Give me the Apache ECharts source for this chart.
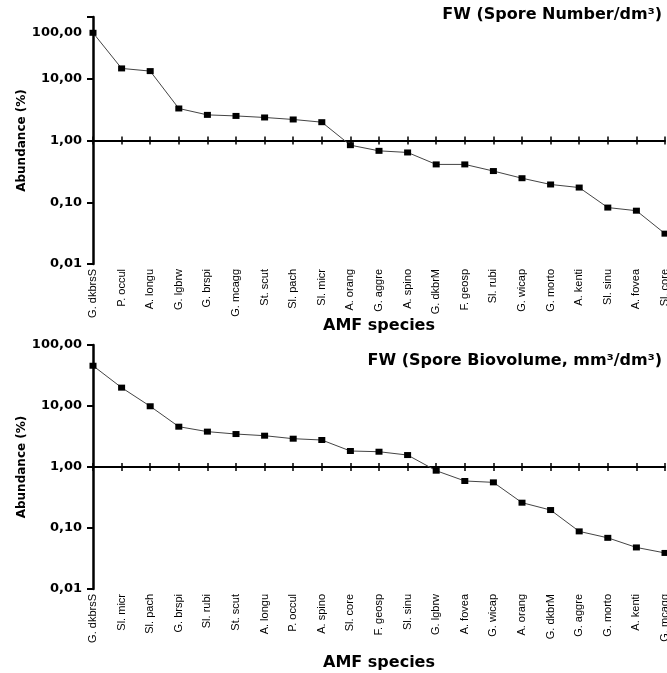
<!DOCTYPE html>
<html>
<head>
<meta charset="utf-8">
<script src="https://cdn.jsdelivr.net/npm/echarts@6/dist/echarts.min.js"></script>
<style>
  html, body { margin: 0; padding: 0; background: #fff; }
  #chart { width: 667px; height: 673px; }
</style>
</head>
<body>
<div id="chart"></div>
<script>
// spore number ranking (top panel)
var numSpecies = ['G. dkbrsS', 'P. occul', 'A. longu', 'G. lgbrw', 'G. brspi', 'G. mcagg', 'St. scut',
    'Sl. pach', 'Sl. micr', 'A. orang', 'G. aggre', 'A. spino', 'G. dkbrM', 'F. geosp', 'Sl. rubi',
    'G. wicap', 'G. morto', 'A. kenti', 'Sl. sinu', 'A. fovea', 'Sl. core'];
var numValues = [55.5, 14.7, 13.3, 3.3, 2.6, 2.5, 2.36, 2.19, 1.98, 0.84, 0.68, 0.64, 0.41, 0.41, 0.32,
    0.245, 0.194, 0.173, 0.082, 0.073, 0.031];

// spore biovolume ranking (bottom panel)
var volSpecies = ['G. dkbrsS', 'Sl. micr', 'Sl. pach', 'G. brspi', 'Sl. rubi', 'St. scut', 'A. longu',
    'P. occul', 'A. spino', 'Sl. core', 'F. geosp', 'Sl. sinu', 'G. lgbrw', 'A. fovea', 'G. wicap',
    'A. orang', 'G. dkbrM', 'G. aggre', 'G. morto', 'A. kenti', 'G. mcagg'];
var volValues = [45.7, 20, 9.9, 4.58, 3.8, 3.47, 3.26, 2.91, 2.77, 1.83, 1.78, 1.57, 0.87, 0.59, 0.56,
    0.26, 0.197, 0.088, 0.069, 0.048, 0.039];

var titles = ['FW (Spore Number/dm³)', 'FW (Spore Biovolume, mm³/dm³)'];

var boldFont = 'DejaVu Sans';
var labelFont = '"Liberation Sans", Arial, sans-serif';

var chart = echarts.init(document.getElementById('chart'));

function fmt(v) {
    return v.toFixed(2).replace('.', ',');
}

// panel geometry
var grids = [
    { left: 93, top: 17, width: 572, height: 247 },
    { left: 93, top: 345, width: 572, height: 244 }
];
var nameGaps = [54, 66];

var xAxes = [], yAxes = [], series = [];

[numSpecies, volSpecies].forEach(function (cats, i) {
    var half = grids[i].height / 2;
    // labels along the bottom
    xAxes.push({
        gridIndex: i, type: 'category', data: cats, boundaryGap: false, position: 'bottom',
        axisLine: { show: false }, axisTick: { show: false },
        axisLabel: { interval: 0, rotate: 90, margin: 5, fontFamily: labelFont, fontSize: 11, color: '#000' },
        name: 'AMF species', nameLocation: 'middle', nameGap: nameGaps[i], nameMoveOverlap: false,
        nameTextStyle: { fontFamily: boldFont, fontWeight: 'bold', fontSize: 16, color: '#000' }
    });
    // axis line crossing at 1,00 with ticks above
    xAxes.push({
        gridIndex: i, type: 'category', data: cats, boundaryGap: false, position: 'top', offset: -half,
        axisLine: { show: true, lineStyle: { color: '#000', width: 2 } },
        axisTick: { show: true, interval: 0, length: 4, lineStyle: { color: '#000', width: 1.5 } },
        axisLabel: { show: false }
    });
    // ticks below the same line
    xAxes.push({
        gridIndex: i, type: 'category', data: cats, boundaryGap: false, position: 'top', offset: -half,
        axisLine: { show: false },
        axisTick: { show: true, inside: true, interval: 0, length: 4, lineStyle: { color: '#000', width: 1.5 } },
        axisLabel: { show: false }
    });
    yAxes.push({
        gridIndex: i, type: 'log', logBase: 10, min: 0.01, max: 100,
        axisLine: { show: true, lineStyle: { color: '#000', width: 2.5 } },
        axisTick: { show: true, length: 6, lineStyle: { color: '#000', width: 2 } },
        splitLine: { show: false },
        axisLabel: {
            margin: 11, fontFamily: boldFont, fontWeight: 'bold', fontSize: 13, color: '#000',
            formatter: function (v) {
                // the top panel prints its 100,00 label a little below the tick
                if (i === 0 && v >= 99) return '{lo|' + fmt(v) + '}';
                return fmt(v);
            },
            rich: {
                lo: { padding: [32, 0, 0, 0], fontFamily: boldFont, fontWeight: 'bold', fontSize: 13, color: '#000' }
            }
        },
        name: 'Abundance (%)', nameLocation: 'middle', nameGap: 65, nameMoveOverlap: false,
        nameTextStyle: { fontFamily: boldFont, fontWeight: 'bold', fontSize: 12, color: '#000' }
    });
});

series.push({
    type: 'line', xAxisIndex: 0, yAxisIndex: 0, data: numValues,
    symbol: 'rect', symbolSize: [7, 6], itemStyle: { color: '#000' },
    lineStyle: { color: '#444', width: 1 }, animation: false
});
series.push({
    type: 'line', xAxisIndex: 3, yAxisIndex: 1, data: volValues,
    symbol: 'rect', symbolSize: [7, 6], itemStyle: { color: '#000' },
    lineStyle: { color: '#444', width: 1 }, animation: false
});

var option = {
    backgroundColor: '#fff',
    animation: false,
    title: [
        { text: titles[0], right: 5, top: 7, padding: 0,
          textStyle: { fontFamily: boldFont, fontWeight: 'bold', fontSize: 16, color: '#000' } },
        { text: titles[1], right: 5, top: 353, padding: 0,
          textStyle: { fontFamily: boldFont, fontWeight: 'bold', fontSize: 16, color: '#000' } }
    ],
    grid: grids.map(function (g) {
        return Object.assign({ outerBoundsMode: 'none', containLabel: false }, g);
    }),
    xAxis: xAxes,
    yAxis: yAxes,
    series: series
};

chart.setOption(option);
</script>
</body>
</html>
